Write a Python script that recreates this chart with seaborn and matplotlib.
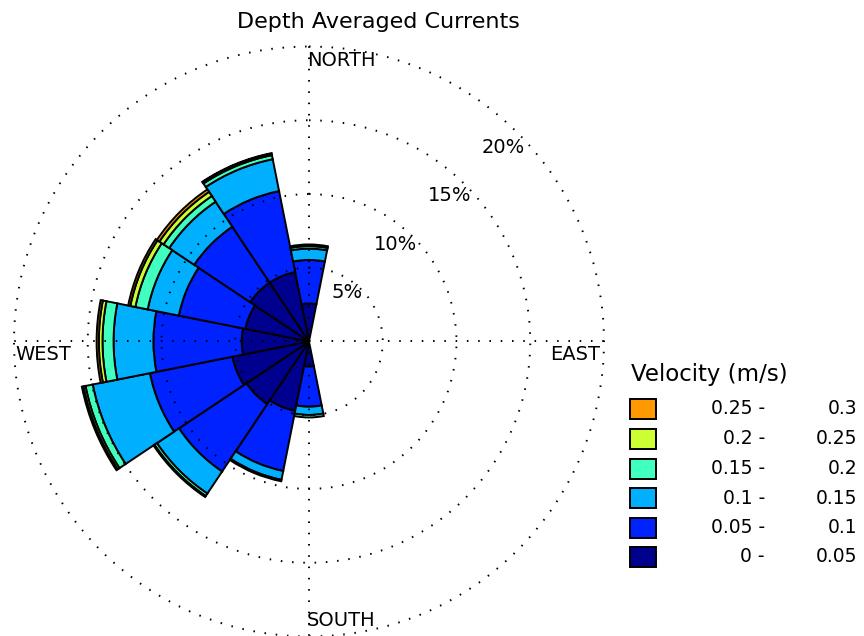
import numpy as np
import pandas as pd
import matplotlib
matplotlib.use("Agg")
import matplotlib.pyplot as plt
from matplotlib.patches import Rectangle
import seaborn as sns

# ---- data (percent of records) ----
directions = ["N", "NNE", "NE", "ENE", "E", "ESE", "SE", "SSE",
              "S", "SSW", "SW", "WSW", "W", "WNW", "NW", "NNW"]
bin_low = ["0", "0.05", "0.1", "0.15", "0.2", "0.25"]
bin_high = ["0.05", "0.1", "0.15", "0.2", "0.25", "0.3"]

freq_000_005 = [2.58, 0, 0, 0, 0, 0, 0, 0, 1.70, 4.80, 5.10, 5.30, 4.56, 4.40, 4.80, 4.80]
freq_005_010 = [2.95, 0, 0, 0, 0, 0, 0, 0, 2.72, 4.15, 5.50, 5.70, 5.99, 4.60, 4.56, 5.60]
freq_010_015 = [0.77, 0, 0, 0, 0, 0, 0, 0, 0.56, 0.61, 1.80, 3.95, 2.70, 2.15, 2.04, 2.20]
freq_015_020 = [0.17, 0, 0, 0, 0, 0, 0, 0, 0.17, 0.10, 0.20, 0.50, 0.75, 0.85, 0.46, 0.28]
freq_020_025 = [0.11, 0, 0, 0, 0, 0, 0, 0, 0.00, 0.00, 0.08, 0.15, 0.25, 0.35, 0.34, 0.10]
freq_025_030 = [0.00, 0, 0, 0, 0, 0, 0, 0, 0.00, 0.00, 0.00, 0.10, 0.15, 0.15, 0.20, 0.04]

ring_levels = [5, 10, 15, 20]
compass = ["NORTH", "EAST", "SOUTH", "WEST"]

# ---- style ----
sns.set_theme(style="white")
plt.rcParams["font.family"] = ["DejaVu Sans"]
plt.rcParams["text.color"] = "black"
colors = sns.color_palette(["#00008F", "#0022FF", "#00B0FF", "#40FFBF", "#CCFF33", "#FF9900"])

freqs = [freq_000_005, freq_005_010, freq_010_015, freq_015_020, freq_020_025, freq_025_030]
df = pd.DataFrame({f"{lo}-{hi}": f for lo, hi, f in zip(bin_low, bin_high, freqs)},
                  index=directions)

W, H = 864, 636
fig = plt.figure(figsize=(W / 100, H / 100), dpi=100)

# polar axes placed so the centre sits at (309, 341.5) px, 20% ring ~295 px
rmax = 20.15
rad_px = 295 * rmax / 20
cx, cy = 309, 341.5
ax = fig.add_axes([(cx - rad_px) / W, 1 - (cy + rad_px) / H, 2 * rad_px / W, 2 * rad_px / H],
                  projection="polar")
ax.set_theta_zero_location("N")
ax.set_theta_direction(-1)

theta = np.deg2rad(np.arange(len(directions)) * 22.5)
width = np.deg2rad(22.5)
bottom = np.zeros(len(directions))
for col, c in zip(df.columns, colors):
    h = df[col].to_numpy()
    m = h > 0
    ax.bar(theta[m], h[m], width=width, bottom=bottom[m], color=c,
           edgecolor="black", linewidth=1.4, align="center", zorder=1)
    bottom += h

ax.set_ylim(0, rmax)
ax.set_yticks(ring_levels)
ax.set_yticklabels([])
ax.set_xticks(np.deg2rad([0, 90, 180, 270]))
ax.set_xticklabels([])
ax.grid(True, color="black", linewidth=1.4, linestyle=(0, (0.8, 5)))
ax.set_axisbelow(False)
ax.spines["polar"].set_visible(False)
ax.set_facecolor("white")

for r in ring_levels:
    ax.text(np.deg2rad(48), r * 0.985, f"{r}%", ha="right", va="center", fontsize=14)

def px(x, y):
    return x / W, 1 - y / H

fig.text(*px(307, 60), compass[0], ha="left", va="center", fontsize=14)
fig.text(*px(600, 355), compass[1], ha="right", va="center", fontsize=14)
fig.text(*px(307, 620), compass[2], ha="left", va="center", fontsize=14)
fig.text(*px(15, 355), compass[3], ha="left", va="center", fontsize=14)

fig.text(*px(378, 22), "Depth Averaged Currents", ha="center", va="center", fontsize=16)

# ---- legend (top row = fastest bin) ----
fig.text(*px(631, 374), "Velocity (m/s)", ha="left", va="center", fontsize=16.5)
row_y = [409, 439, 468.5, 498, 527.5, 557]
for k, (lo, hi, c) in enumerate(zip(bin_low[::-1], bin_high[::-1], colors[::-1])):
    y = row_y[k]
    fig.patches.append(Rectangle(px(630, y + 10), 26 / W, 20 / H, transform=fig.transFigure,
                                 facecolor=c, edgecolor="black", linewidth=1.4))
    fig.text(*px(765, y), f"{lo} -", ha="right", va="center", fontsize=13.5)
    fig.text(*px(857, y), hi, ha="right", va="center", fontsize=13.5)

fig.savefig("out.png", dpi=100, facecolor="white")
